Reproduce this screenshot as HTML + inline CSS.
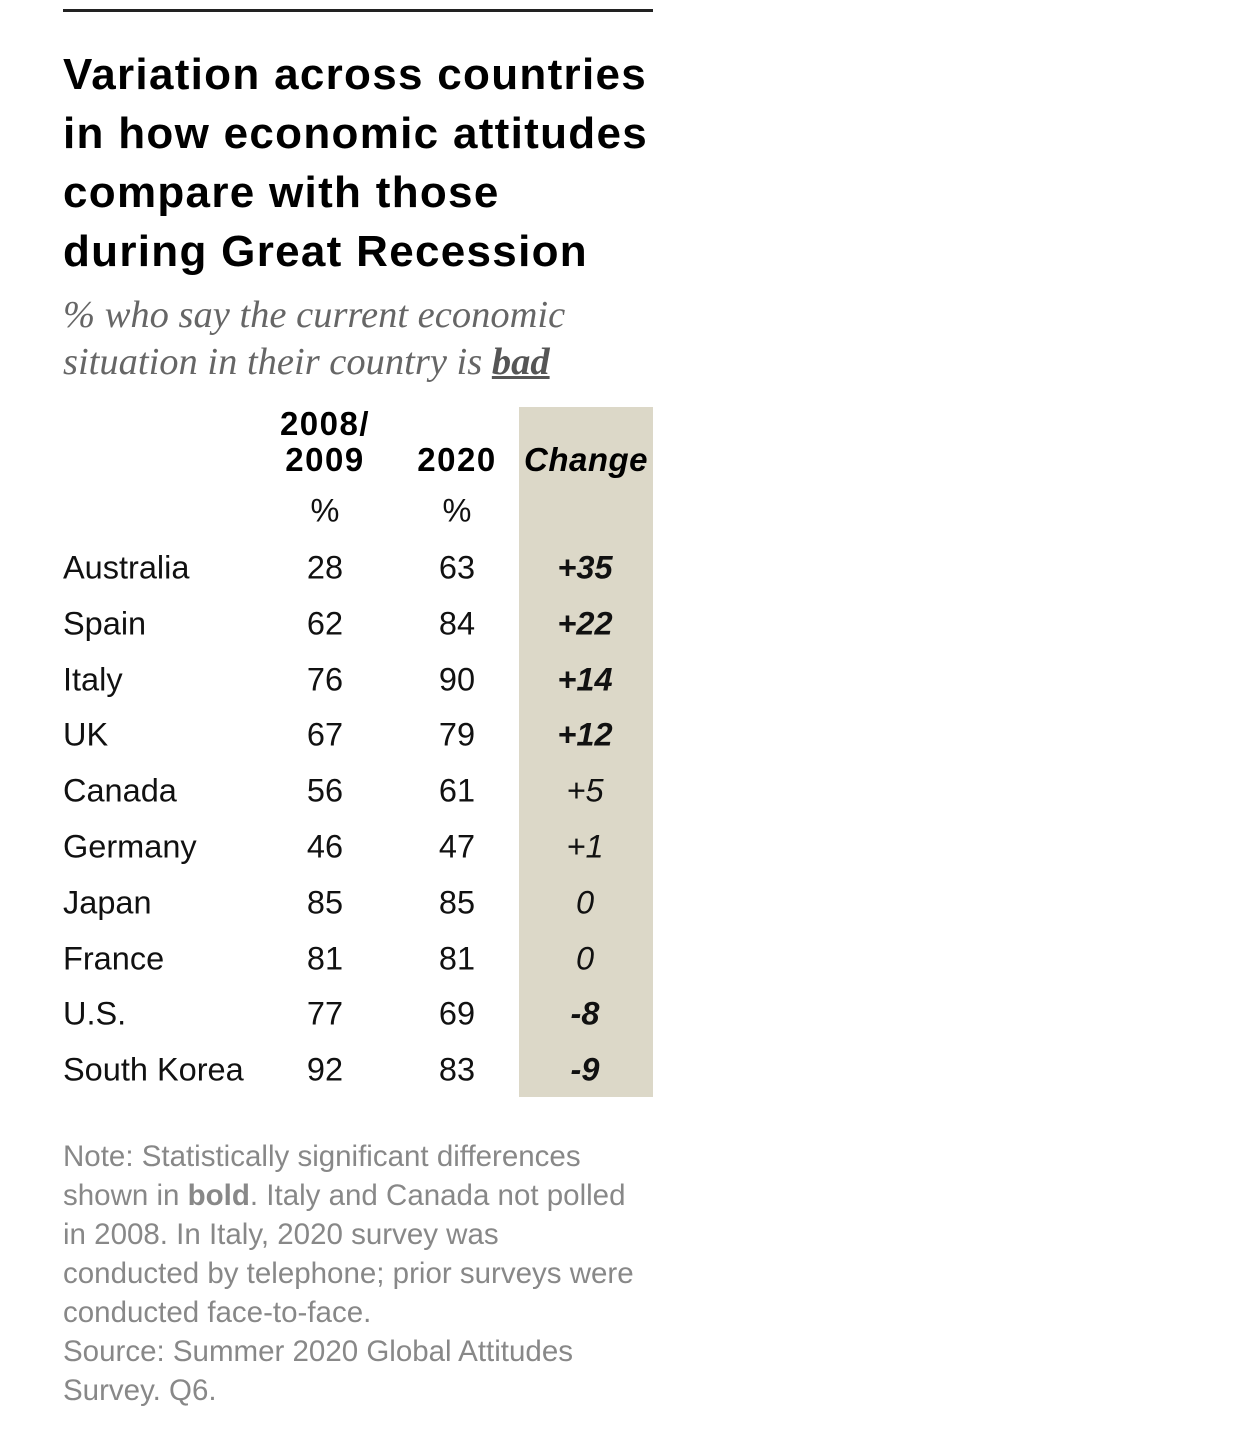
<!DOCTYPE html>
<html><head><meta charset="utf-8">
<style>
body{margin:0;width:1242px;height:1433px;background:#fff;position:relative;overflow:hidden;font-family:"Liberation Sans",sans-serif;}
.a{position:absolute;white-space:nowrap;}
#rule{left:63px;top:9px;width:590px;height:3px;background:#222;}
#title{left:63px;top:45px;font-weight:bold;font-size:44px;line-height:59px;color:#000;letter-spacing:1.3px;}
#sub{left:63px;top:292px;font-family:"Liberation Serif",serif;font-style:italic;font-size:38.5px;line-height:47px;color:#666;}
#shade{left:519px;top:407px;width:134px;height:690px;background:#dcd8c8;}
.h{font-weight:bold;font-size:33px;line-height:36px;text-align:center;color:#000;letter-spacing:1.5px;}
.c{font-size:32.5px;color:#111;transform:translateY(-50%);}
.n{font-size:32.5px;color:#111;transform:translate(-50%,-50%);}
#note{left:63px;top:1137px;font-size:29.5px;line-height:39px;color:#888;letter-spacing:0px;}
</style></head><body>
<div class="a" id="rule"></div>
<div class="a" id="title">Variation across countries<br>in how economic attitudes<br>compare with those<br>during Great Recession</div>
<div class="a" id="sub">% who say the current economic<br>situation in their country is <b style="text-decoration:underline;color:#555">bad</b></div>
<div class="a" id="shade"></div>
<div class="a h" style="left:255px;top:406px;width:140px">2008/<br>2009</div>
<div class="a h" style="left:387px;top:442px;width:140px">2020</div>
<div class="a h" style="left:519px;top:442px;width:134px;font-style:italic;letter-spacing:0.5px">Change</div>
<div class="a n" style="left:325px;top:511px">%</div>
<div class="a n" style="left:457px;top:511px">%</div>
<div id="rows"></div>
<div class="a" id="note">Note: Statistically significant differences<br>shown in <b>bold</b>. Italy and Canada not polled<br>in 2008. In Italy, 2020 survey was<br>conducted by telephone; prior surveys were<br>conducted face-to-face.<br>Source: Summer 2020 Global Attitudes<br>Survey. Q6.</div>
<script>
const countries=["Australia","Spain","Italy","UK","Canada","Germany","Japan","France","U.S.","South Korea"];
const v2008=[28,62,76,67,56,46,85,81,77,92];
const v2020=[63,84,90,79,61,47,85,81,69,83];
const significant=[true,true,true,true,false,false,false,false,true,true];
const root=document.getElementById('rows');
const top0=568, step=55.8;
function add(cls,txt,x,y,name,extra){
  const d=document.createElement('div');
  d.className='a '+cls;d.textContent=txt;
  d.style.left=x+'px';d.style.top=y+'px';
  if(extra)Object.assign(d.style,extra);
  
  
  root.appendChild(d);
}
countries.forEach((c,i)=>{
  const y=top0+i*step;
  const k=c.toLowerCase().replace(/[^a-z]+/g,'-');
  add('c',c,63,y,'country-'+k);
  add('n',String(v2008[i]),325,y,'value-2008-'+k);
  add('n',String(v2020[i]),457,y,'value-2020-'+k);
  const ch=v2020[i]-v2008[i];
  const t=ch>0?'+'+ch:String(ch);
  add('n',t,585,y,'change-'+k,{fontStyle:'italic',fontWeight:significant[i]?'bold':'normal'});
});
</script>
</body></html>
